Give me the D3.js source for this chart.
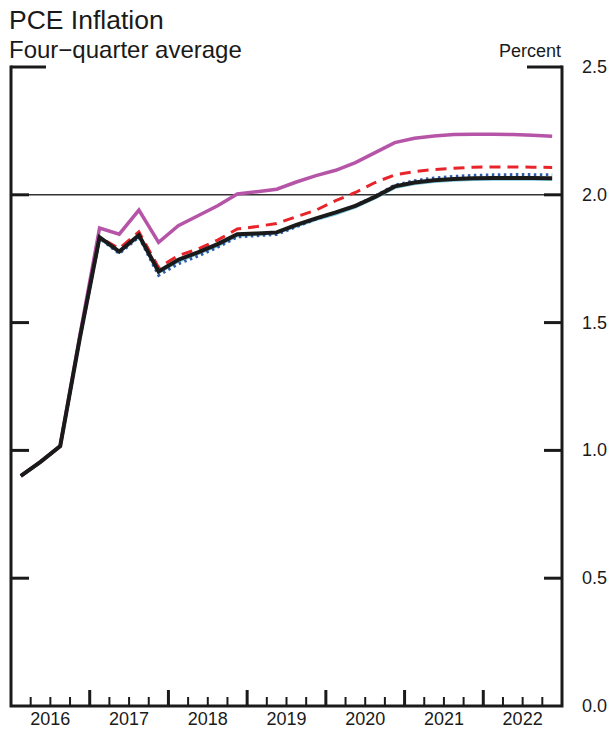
<!DOCTYPE html>
<html>
<head>
<meta charset="utf-8">
<script src="https://cdn.jsdelivr.net/npm/d3@7"></script>
<style>
  html, body { margin: 0; padding: 0; background: #fff; }
  svg text { font-family: "Liberation Sans", Arial, sans-serif; fill: #1a1a1a; }
</style>
</head>
<body>
<div id="chart"></div>
<script>
const years = [2016, 2017, 2018, 2019, 2020, 2021, 2022];
const yTicks = [0, 0.5, 1.0, 1.5, 2.0, 2.5];

// quarterly values, 2016:Q1 .. 2022:Q4
const baseline = [0.90, 0.955, 1.017, 1.44, 1.834, 1.778, 1.842, 1.700, 1.746, 1.775, 1.807, 1.846,
  1.849, 1.853, 1.882, 1.908, 1.931, 1.957, 1.992, 2.033, 2.048, 2.057, 2.062, 2.065,
  2.066, 2.066, 2.066, 2.065];
const magenta = [0.90, 0.955, 1.017, 1.45, 1.87, 1.846, 1.94, 1.814, 1.879, 1.918, 1.957, 2.003,
  2.012, 2.022, 2.05, 2.075, 2.096, 2.126, 2.165, 2.204, 2.221, 2.23, 2.236, 2.237,
  2.237, 2.236, 2.233, 2.229];
const redDashed = [0.90, 0.955, 1.017, 1.44, 1.834, 1.79, 1.855, 1.715, 1.762, 1.788, 1.823, 1.866,
  1.876, 1.888, 1.914, 1.94, 1.977, 2.009, 2.048, 2.078, 2.091, 2.099, 2.104, 2.108,
  2.109, 2.109, 2.108, 2.107];
const blueDotted = [0.90, 0.955, 1.017, 1.44, 1.83, 1.77, 1.835, 1.685, 1.73, 1.76, 1.795, 1.835,
  1.84, 1.845, 1.875, 1.905, 1.93, 1.958, 1.995, 2.038, 2.055, 2.066, 2.072, 2.076,
  2.078, 2.079, 2.079, 2.078];
const cyan = [0.90, 0.955, 1.017, 1.44, 1.83, 1.775, 1.838, 1.695, 1.74, 1.77, 1.80, 1.84,
  1.845, 1.85, 1.878, 1.903, 1.925, 1.952, 1.988, 2.028, 2.043, 2.052, 2.057, 2.06,
  2.061, 2.061, 2.061, 2.06];

const width = 613;
const height = 729;
const plotLeft = 11, plotRight = 562, plotTop = 67, plotBottom = 706;

const svg = d3.select('#chart')
  .append('svg')
  .attr('width', width)
  .attr('height', height);

const nQ = years.length * 4;
const xScale = d3.scaleLinear().domain([0, nQ]).range([plotLeft, plotRight]);
const yScale = d3.scaleLinear().domain([0, 2.5]).range([plotBottom, plotTop]);

// titles
svg.append('text').attr('x', 9).attr('y', 29)
  .style('font-size', '26.5px').text('PCE Inflation');
svg.append('text').attr('x', 9).attr('y', 58)
  .style('font-size', '24px').text('Four\u2212quarter average');
svg.append('text').attr('x', 561).attr('y', 57)
  .attr('text-anchor', 'end')
  .style('font-size', '18px').text('Percent');

// reference line at 2 percent
svg.append('line')
  .attr('x1', plotLeft).attr('x2', plotRight)
  .attr('y1', yScale(2)).attr('y2', yScale(2))
  .attr('stroke', '#333').attr('stroke-width', 1.5);

// y ticks, both sides, pointing inward
const yTickG = svg.append('g');
yTicks.filter((d) => d > 0).forEach(function (d) {
  const len = d === 2.5 ? 35 : 18;
  yTickG.append('line')
    .attr('x1', plotLeft).attr('x2', plotLeft + len)
    .attr('y1', yScale(d)).attr('y2', yScale(d))
    .attr('stroke', '#1a1a1a').attr('stroke-width', 3);
  yTickG.append('line')
    .attr('x1', plotRight - len).attr('x2', plotRight)
    .attr('y1', yScale(d)).attr('y2', yScale(d))
    .attr('stroke', '#1a1a1a').attr('stroke-width', 3);
});

// y labels on the right
svg.append('g')
  .selectAll('text')
  .data(yTicks)
  .enter()
  .append('text')
  .attr('x', 582)
  .attr('y', (d) => yScale(d) + 6)
  .style('font-size', '18px')
  .text((d) => d.toFixed(1));

// frame sides and bottom
svg.append('path')
  .attr('d', `M${plotLeft},${plotTop - 1.5}V${plotBottom}H${plotRight}V${plotTop - 1.5}`)
  .attr('fill', 'none')
  .attr('stroke', '#1a1a1a')
  .attr('stroke-width', 3);

// quarter ticks
const qTicks = d3.range(1, nQ);
svg.append('g')
  .selectAll('line')
  .data(qTicks)
  .enter()
  .append('line')
  .attr('x1', (d) => xScale(d)).attr('x2', (d) => xScale(d))
  .attr('y1', plotBottom)
  .attr('y2', (d) => (d % 4 === 0 ? plotBottom - 16 : plotBottom - 9))
  .attr('stroke', '#1a1a1a')
  .attr('stroke-width', (d) => (d % 4 === 0 ? 3 : 2));

// year labels
svg.append('g')
  .selectAll('text')
  .data(years)
  .enter()
  .append('text')
  .attr('x', (d, i) => xScale(i * 4 + 2))
  .attr('y', 725)
  .attr('text-anchor', 'middle')
  .style('font-size', '18px')
  .text((d) => d);

const line = d3.line()
  .x((d, i) => xScale(i + 0.5))
  .y((d) => yScale(d));

const series = [
  { values: cyan, color: '#7fcbe0', width: 3, dash: null },
  { values: magenta, color: '#b655a8', width: 3.5, dash: null },
  { values: redDashed, color: '#e8242b', width: 3, dash: '11,7' },
  { values: blueDotted, color: '#2f5da8', width: 3, dash: '2.5,3.5' },
  { values: baseline, color: '#1a1a1a', width: 4, dash: null }
];

svg.append('g')
  .selectAll('path')
  .data(series)
  .enter()
  .append('path')
  .attr('d', (d) => line(d.values))
  .attr('fill', 'none')
  .attr('stroke', (d) => d.color)
  .attr('stroke-width', (d) => d.width)
  .attr('stroke-dasharray', (d) => d.dash)
  .attr('stroke-linejoin', 'miter');
</script>
</body>
</html>
